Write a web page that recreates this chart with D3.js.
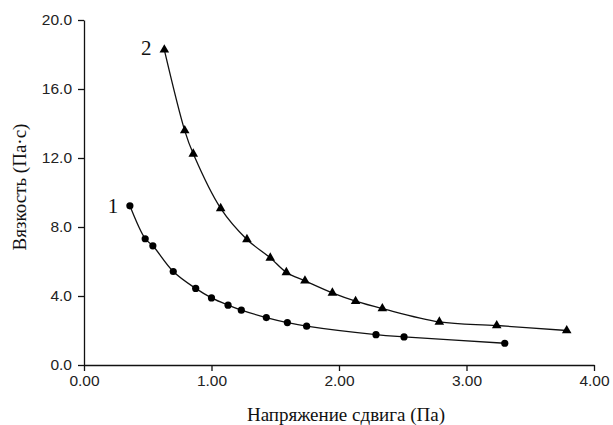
<!DOCTYPE html>
<html>
<head>
<meta charset="UTF-8">
<title>Вязкость</title>
<script src="https://cdn.jsdelivr.net/npm/d3@7"></script>
<style>
    body { margin: 0; background: #fff; }
    .tick text { font-family: "Liberation Sans", Arial, sans-serif; font-size: 15.5px; fill: #222; }
    .domain, .tick line { stroke: #111; stroke-width: 1.3; }
</style>
</head>
<body>
<div id="chart"></div>
<script>
// series 1 (circles)
var x1 = [0.36, 0.48, 0.54, 0.70, 0.876, 1.00, 1.13, 1.234, 1.43, 1.595, 1.746, 2.29, 2.51, 3.30];
var y1 = [9.23, 7.32, 6.91, 5.42, 4.44, 3.89, 3.47, 3.18, 2.75, 2.46, 2.25, 1.76, 1.63, 1.26];
// series 2 (triangles)
var x2 = [0.63, 0.79, 0.857, 1.072, 1.278, 1.461, 1.587, 1.733, 1.948, 2.13, 2.34, 2.787, 3.237, 3.786];
var y2 = [18.27, 13.59, 12.24, 9.08, 7.28, 6.21, 5.37, 4.88, 4.18, 3.70, 3.27, 2.50, 2.29, 2.00];

var xTicks = [0, 1, 2, 3, 4];
var yTicks = [0, 4, 8, 12, 16, 20];

var serif = "'Liberation Serif'";

var margin = { top: 20, right: 19, bottom: 60, left: 84 },
    W = 613, H = 425,
    width = W - margin.left - margin.right,
    height = H - margin.top - margin.bottom;

var svg = d3.select("#chart").append("svg")
    .attr("width", W).attr("height", H);
var g = svg.append("g")
    .attr("transform", "translate(" + margin.left + "," + margin.top + ")");

var x = d3.scaleLinear().domain([0, 4]).range([0, width]);
var y = d3.scaleLinear().domain([0, 20]).range([height, 0]);

g.append("g")
    .attr("transform", "translate(0," + height + ")")
    .call(d3.axisBottom(x).tickValues(xTicks).tickFormat(d3.format(".2f")).tickSize(6).tickSizeOuter(0).tickPadding(4));
g.append("g")
    .call(d3.axisLeft(y).tickValues(yTicks).tickFormat(d3.format(".1f")).tickSize(6).tickSizeOuter(0).tickPadding(6));

var line = d3.line()
    .x(function (d) { return x(d[0]); })
    .y(function (d) { return y(d[1]); })
    .curve(d3.curveCatmullRom.alpha(0.5));

var s1 = x1.map(function (v, i) { return [v, y1[i]]; });
var s2 = x2.map(function (v, i) { return [v, y2[i]]; });

[s1, s2].forEach(function (s) {
    g.append("path").datum(s)
        .attr("fill", "none")
        .attr("stroke", "#111")
        .attr("stroke-width", 1.3)
        .attr("d", line);
});

g.selectAll(".dot").data(s1).enter().append("circle")
    .attr("cx", function (d) { return x(d[0]); })
    .attr("cy", function (d) { return y(d[1]); })
    .attr("r", 3.6)
    .attr("fill", "#000");

var tri = d3.symbol().type(d3.symbolTriangle).size(40);
g.selectAll(".tri").data(s2).enter().append("path")
    .attr("d", tri)
    .attr("transform", function (d) { return "translate(" + x(d[0]) + "," + y(d[1]) + ")"; })
    .attr("fill", "#000");

// curve numbers
g.append("text")
    .attr("x", x(x1[0]) - 17).attr("y", y(y1[0]) + 7)
    .attr("text-anchor", "middle")
    .style("font-family", serif).style("font-size", "21px").style("fill", "#111")
    .text("1");
g.append("text")
    .attr("x", x(x2[0]) - 18).attr("y", y(y2[0]) + 5)
    .attr("text-anchor", "middle")
    .style("font-family", serif).style("font-size", "21px").style("fill", "#111")
    .text("2");

// axis titles
svg.append("text")
    .attr("x", 346).attr("y", 421)
    .attr("text-anchor", "middle")
    .style("font-family", serif).style("font-size", "19px").style("fill", "#111")
    .text("Напряжение сдвига (Па)");
svg.append("text")
    .attr("transform", "translate(26,187) rotate(-90)")
    .attr("text-anchor", "middle")
    .style("font-family", serif).style("font-size", "19px").style("fill", "#111")
    .text("Вязкость (Па·с)");
</script>
</body>
</html>
